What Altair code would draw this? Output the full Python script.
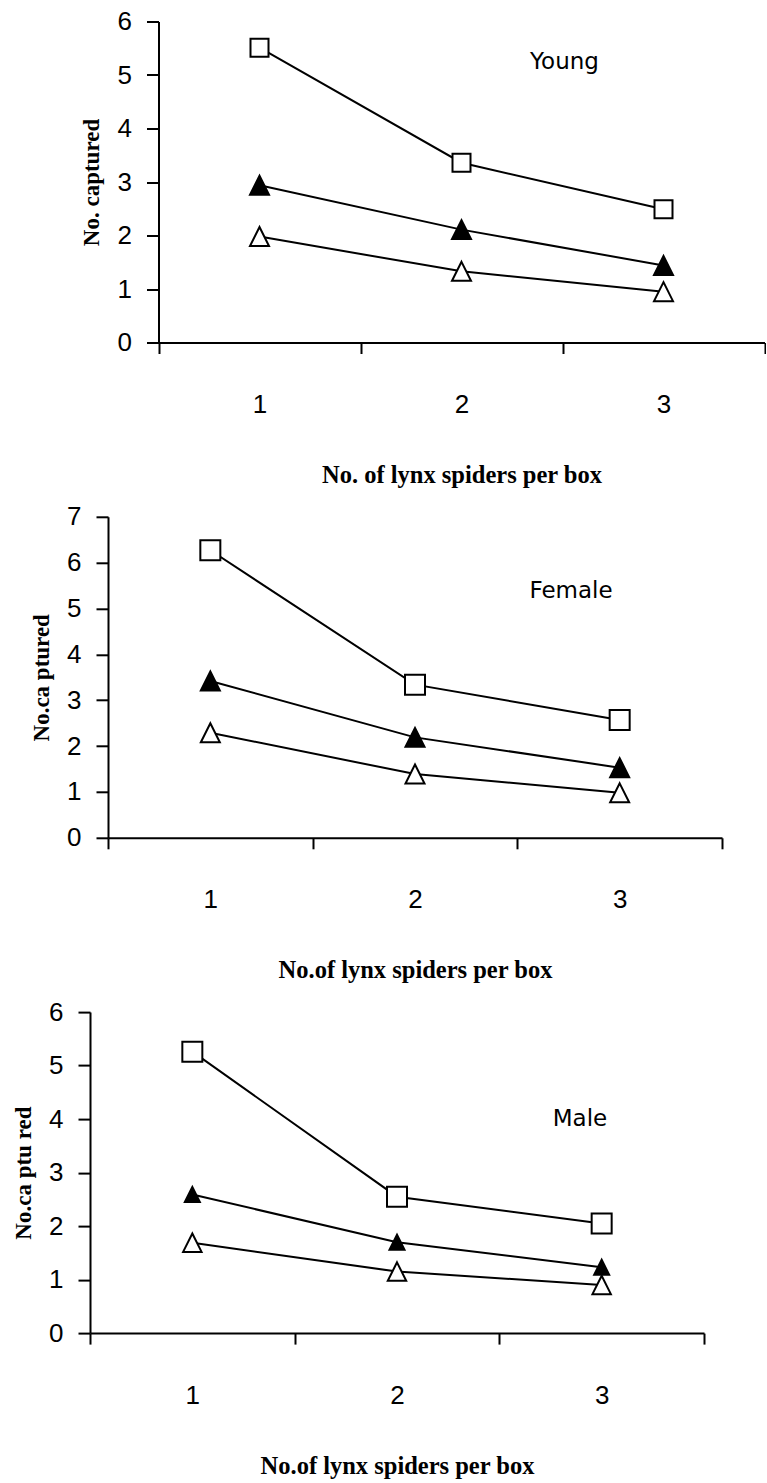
import altair as alt
import pandas as pd

categories = ["1", "2", "3"]
series = ["square", "filled", "open"]

young_square = [5.51, 3.36, 2.49]
young_filled = [2.94, 2.11, 1.44]
young_open = [1.98, 1.33, 0.95]

female_square = [6.27, 3.34, 2.57]
female_filled = [3.42, 2.19, 1.53]
female_open = [2.29, 1.39, 0.98]

male_square = [5.26, 2.55, 2.05]
male_filled = [2.59, 1.70, 1.23]
male_open = [1.69, 1.15, 0.90]

TRI = "M0,-1L1,1L-1,1Z"
LEFT = 90  # common left reference of the panels


def panel(sq, fi, op, ymax, shift, width, ytitle, xtitle, label, label_y,
          label_dx, title_y, sizes):
    df = pd.DataFrame({
        "cat": categories * 3,
        "series": [s for s in series for _ in categories],
        "value": sq + fi + op,
        "shape": ["square"] * 3 + [TRI] * 6,
        "fill": ["white"] * 3 + ["black"] * 3 + ["white"] * 3,
        "sz": [sizes[0]] * 3 + [sizes[1]] * 3 + [sizes[2]] * 3,
    })
    xscale = alt.Scale(type="band", domain=categories, paddingInner=0,
                       paddingOuter=0, range=[shift, shift + width])
    yscale = alt.Scale(domain=[0, ymax], nice=False, zero=True)
    xenc = alt.X(
        "cat:N", scale=xscale,
        axis=alt.Axis(
            title=xtitle, tickBand="extent", tickSize=11, tickWidth=2,
            tickColor="black", domainColor="black", domainWidth=2,
            labelAngle=0, labelFont="Liberation Sans", labelFontSize=26,
            labelColor="black", labelPadding=38, labelBaseline="top",
            titleFont="Liberation Serif", titleFontSize=24.5,
            titleFontWeight="bold", titleColor="black", titleY=title_y,
            titleX=shift + width / 2, titleBaseline="top", grid=False,
        ),
    )
    yaxis_kw = dict(
        title=ytitle, values=list(range(ymax + 1)), tickSize=12,
        tickWidth=2, tickColor="black", domainColor="black",
        domainWidth=2, labelFont="Liberation Sans", labelFontSize=26,
        labelColor="black", labelPadding=15, titleFont="Liberation Serif",
        titleFontSize=23, titleFontWeight="bold", titleColor="black",
        titleX=-60, titleBaseline="alphabetic", titleAngle=270, grid=False,
    )
    if shift:
        yaxis_kw["offset"] = -shift
    yenc = alt.Y("value:Q", scale=yscale, axis=alt.Axis(**yaxis_kw))
    base = alt.Chart(df).encode(x=xenc, y=yenc)
    lines = base.mark_line(color="black", strokeWidth=2).encode(detail="series:N")
    points = base.mark_point(filled=True, stroke="black", strokeWidth=2, opacity=1).encode(
        shape=alt.Shape("shape:N", scale=None),
        fill=alt.Fill("fill:N", scale=None),
        size=alt.Size("sz:Q", scale=None),
    )
    ann = pd.DataFrame({"cat": ["2"], "value": [label_y], "text": [label]})
    text = alt.Chart(ann).mark_text(
        font="DejaVu Sans", fontSize=23, dx=label_dx, baseline="alphabetic",
        align="center", color="black",
    ).encode(x=xenc, y=yenc, text="text:N")
    spacer = alt.Chart(ann).mark_rule(opacity=0, strokeWidth=1).encode(
        x=alt.value(-LEFT), y=alt.value(100), y2=alt.value(101)
    )
    return alt.layer(lines, points, text, spacer).properties(
        width=shift + width, height=321
    )


p1 = panel(young_square, young_filled, young_open, 6, 68.5, 606,
           "No. captured", "No. of lynx spiders per box", "Young", 5.11, 103, 121,
           [324, 361, 361])
p2 = panel(female_square, female_filled, female_open, 7, 18, 614,
           "No.ca ptured", "No.of lynx spiders per box", "Female", 5.22, 156, 121,
           [400, 361, 361])
p3 = panel(male_square, male_filled, male_open, 6, 0, 614,
           "No.ca ptu red", "No.of lynx spiders per box", "Male", 3.88, 183, 121,
           [400, 225, 340])

chart = alt.vconcat(p1, p2, p3, spacing=16.3).properties(
    padding={"left": 0, "top": 8.5, "right": 0, "bottom": 0},
    background="white",
).configure_view(stroke=None)

chart.save("out.html", embed_options={"renderer": "svg", "actions": False})
